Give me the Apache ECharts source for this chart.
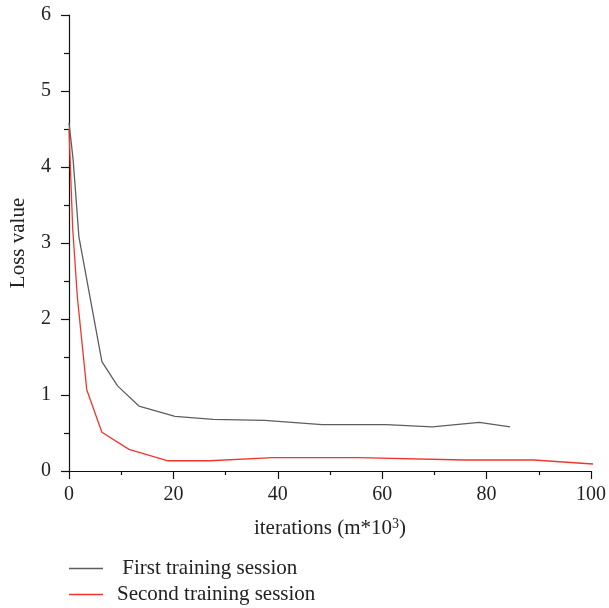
<!DOCTYPE html>
<html>
<head>
	<meta charset="UTF-8">
	<title>Loss value</title>
	<script src="https://cdn.jsdelivr.net/npm/echarts@6/dist/echarts.min.js"></script>
	<style>
		html, body { margin: 0; padding: 0; background: #fff; }
	</style>
</head>
<body>
	<div id="main" style="width: 609px; height: 608px;"></div>
	<script>
		// iterations (m*10^3) and loss values
		var firstX = [0, 0.8, 1.9, 6.3, 9.3, 13.4, 20.3, 27.6, 37.5, 48.5, 60.8, 69.6, 78.6, 84.5]
		var firstY = [4.58, 4.09, 3.08, 1.44, 1.12, 0.855, 0.72, 0.68, 0.665, 0.61, 0.61, 0.58, 0.64, 0.58]

		var secondX = [0, 0.7, 1.6, 3.4, 6.3, 11.5, 18.8, 27, 39, 55.5, 75.8, 89, 100.8]
		var secondY = [4.5, 3.2, 2.29, 1.07, 0.51, 0.285, 0.135, 0.135, 0.175, 0.175, 0.145, 0.145, 0.09]

		var seriesNames = [' First training session', 'Second training session']
		var seriesColors = ['#5e5e5e', '#f0362c']

		function pairs (xs, ys) {
			var out = []
			for (var i = 0; i < xs.length; i++) {
				out.push([xs[i], ys[i]])
			}
			return out
		}

		var font = 'Liberation Serif'

		// one legend per row, stacked under the axis
		function legendRow (name, top) {
			return {
				orient: 'vertical',
				left: 69,
				top: top,
				padding: 0,
				icon: 'rect',
				itemWidth: 34,
				itemHeight: 1.5,
				data: [name],
				textStyle: {
					fontFamily: font,
					fontSize: 21,
					color: '#222',
					padding: [0, 0, 0, 9]
				}
			}
		}

		var myChart = echarts.init(document.getElementById('main'))

		var option = {
			animation: false,
			backgroundColor: '#fff',
			grid: {
				left: 68,
				right: 15,
				top: 15,
				bottom: 137
			},
			legend: [
				legendRow(seriesNames[0], 558),
				legendRow(seriesNames[1], 584)
			],
			xAxis: {
				type: 'value',
				min: 0,
				max: 100,
				interval: 20,
				name: 'iterations (m*10{sup|3})',
				nameLocation: 'middle',
				nameGap: 46,
				nameTextStyle: {
					fontFamily: font,
					fontSize: 21,
					color: '#222',
					rich: {
						sup: { fontFamily: font, fontSize: 14, color: '#222', padding: [0, 0, 9, 0] }
					}
				},
				axisLine: { lineStyle: { color: '#111', width: 1.2 } },
				axisTick: { show: true, length: 8, lineStyle: { color: '#111', width: 1.2 } },
				minorTick: { show: true, splitNumber: 2, length: 4, lineStyle: { color: '#111', width: 1.2 } },
				axisLabel: { margin: 14, fontFamily: font, fontSize: 20, color: '#222' },
				splitLine: { show: false }
			},
			yAxis: {
				type: 'value',
				min: 0,
				max: 6,
				interval: 1,
				name: 'Loss value',
				nameLocation: 'middle',
				nameGap: 40,
				nameTextStyle: { fontFamily: font, fontSize: 21, color: '#222' },
				axisLine: { show: true, lineStyle: { color: '#111', width: 1.2 } },
				axisTick: { show: true, length: 8, lineStyle: { color: '#111', width: 1.2 } },
				minorTick: { show: true, splitNumber: 2, length: 5, lineStyle: { color: '#111', width: 1.2 } },
				axisLabel: { margin: 18, fontFamily: font, fontSize: 20, color: '#222' },
				splitLine: { show: false }
			},
			series: [
				{
					name: seriesNames[0],
					type: 'line',
					symbol: 'none',
					data: pairs(firstX, firstY),
					lineStyle: { color: seriesColors[0], width: 1.3 },
					itemStyle: { color: seriesColors[0] }
				},
				{
					name: seriesNames[1],
					type: 'line',
					symbol: 'none',
					data: pairs(secondX, secondY),
					lineStyle: { color: seriesColors[1], width: 1.3 },
					itemStyle: { color: seriesColors[1] }
				}
			]
		}
		myChart.setOption(option)
	</script>
</body>
</html>
